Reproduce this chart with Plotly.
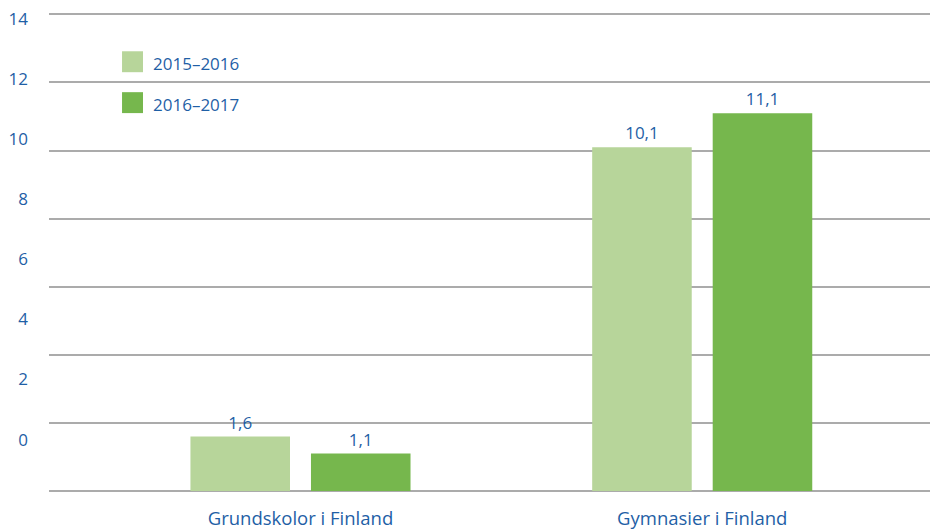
import plotly.graph_objects as go

categories = ["Grundskolor i Finland", "Gymnasier i Finland"]
series_names = ["2015–2016", "2016–2017"]
values_2015_2016 = [1.6, 10.1]
values_2016_2017 = [1.1, 11.1]
y_ticks = [0, 2, 4, 6, 8, 10, 12, 14]
colors = ["#b7d59a", "#76b74d"]

BLUE = "#1f5fa6"
FONT = "Open Sans"
FS = 17

fig = go.Figure()
for name, vals, col in zip(series_names, [values_2015_2016, values_2016_2017], colors):
    fig.add_trace(go.Bar(
        x=categories, y=vals, name=name, marker_color=col, marker_line_width=0,
        texttemplate="%{y:.1f}", textposition="outside", cliponaxis=False,
        textfont=dict(color=BLUE, size=FS, family=FONT), showlegend=False,
    ))
# helper trace for the tick-label axis
fig.add_trace(go.Scatter(x=[categories[0]], y=[None], yaxis="y2", showlegend=False,
                         hoverinfo="skip", mode="markers"))

# legend drawn as shapes + text
leg_y = [(0.8725, 0.9161), (0.7873, 0.8309)]
for (y0, y1), name, col in zip(leg_y, series_names, colors):
    fig.add_shape(type="rect", xref="paper", yref="paper", x0=0.0829, x1=0.1067,
                  y0=y0, y1=y1, fillcolor=col, line_width=0)
    fig.add_annotation(xref="paper", yref="paper", x=0.1155, y=(y0 + y1) / 2 - 0.004,
                       text=name, showarrow=False, xanchor="left", yanchor="middle",
                       font=dict(color=BLUE, size=FS, family=FONT))

fig.update_layout(
    width=930, height=529,
    margin=dict(l=49, r=0, t=10.6, b=37.5, autoexpand=False),
    paper_bgcolor="white", plot_bgcolor="white",
    separators=", ",
    barmode="group", bargap=0.40, bargroupgap=0.174,
    font=dict(family=FONT, color=BLUE, size=FS),
    xaxis=dict(range=[-0.626, 1.567], showgrid=False, zeroline=False, showline=False,
               ticks="", tickfont=dict(color=BLUE, size=18.5, family=FONT),
               ticklabelstandoff=14, automargin=False),
    yaxis=dict(range=[0, 14.1], tickvals=y_ticks, showticklabels=False, showgrid=True,
               gridcolor="#ababab", gridwidth=1.6, zeroline=True, zerolinecolor="#ababab",
               zerolinewidth=1.6, showline=False, automargin=False),
    yaxis2=dict(overlaying="y", side="left", anchor="x", range=[-1.713, 14.277],
                tickvals=y_ticks, showgrid=False, zeroline=False, showline=False,
                ticks="", tickfont=dict(color=BLUE, size=FS, family=FONT),
                ticklabelstandoff=20, automargin=False, ticklabeloverflow="allow"),
)

fig.write_html(
    "out.html",
    config={"displayModeBar": False},
    post_script="document.body.style.margin='0';document.body.style.overflow='hidden';",
)
